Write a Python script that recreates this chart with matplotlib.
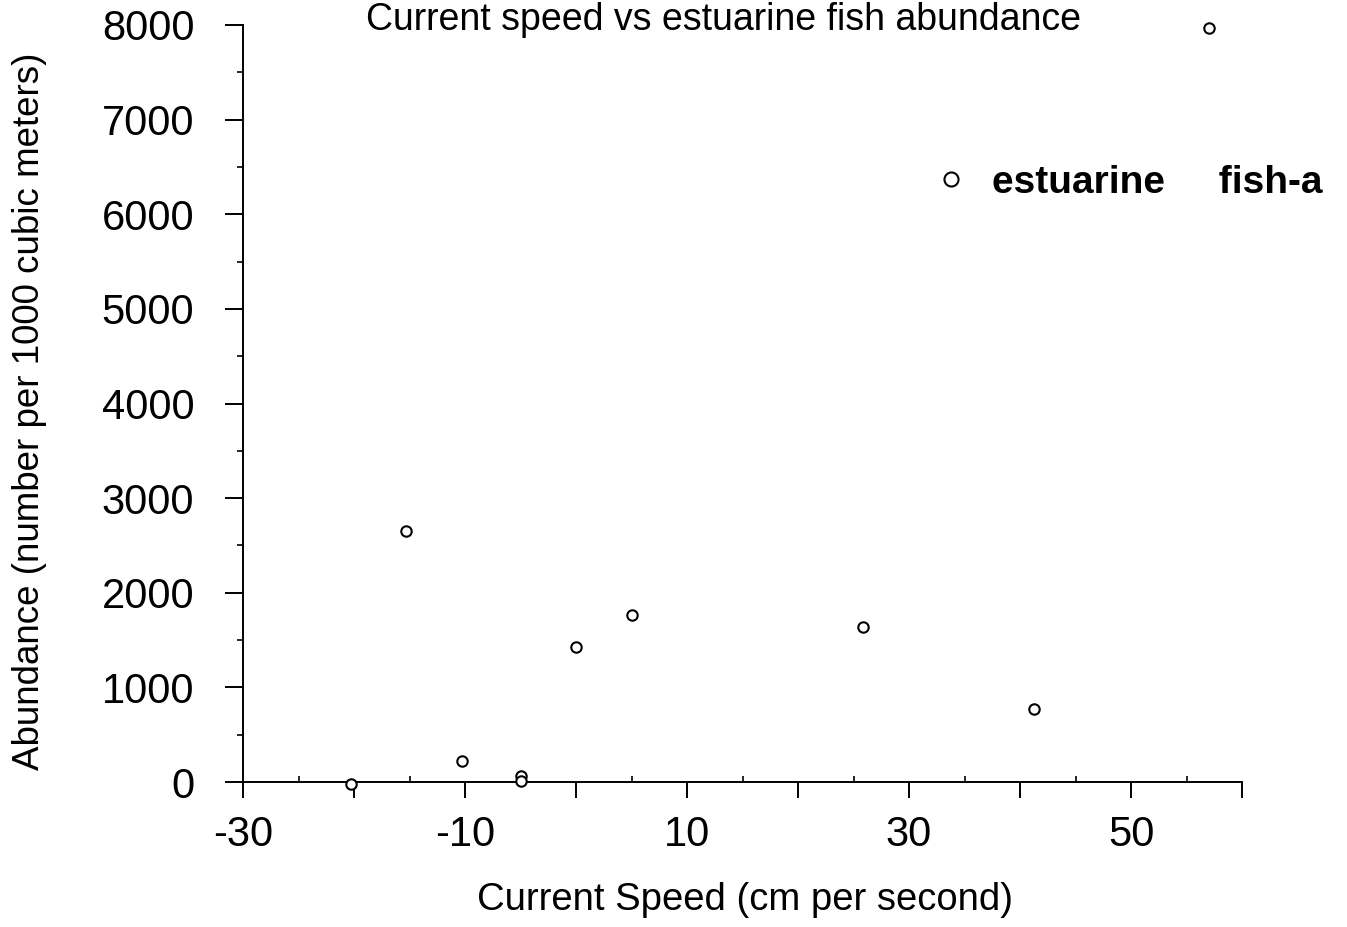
import matplotlib
matplotlib.use("Agg")
import matplotlib.pyplot as plt
from matplotlib.ticker import MultipleLocator, FixedLocator, FixedFormatter

plt.rcParams['font.family'] = ['Liberation Sans', 'DejaVu Sans']

# Data
speed = [-20.3, -15.3, -10.3, -5.0, -5.0, 0.0, 5.0, 25.9, 41.3, 57.0]
abundance = [-20, 2656, 225, 63, 10, 1427, 1765, 1638, 772, 7970]
series_name = "estuarine     fish-a"
x_labels = ["-30", "", "-10", "", "10", "", "30", "", "50", ""]
y_ticks = [0, 1000, 2000, 3000, 4000, 5000, 6000, 7000, 8000]

W, H = 1347, 927
fig = plt.figure(figsize=(W / 100, H / 100), dpi=100)
ax = fig.add_axes([243 / W, 1 - 782 / H, 999 / W, 757 / H])

ax.plot(speed, abundance, linestyle='none', marker='o', markersize=7.5,
        markerfacecolor='white', markeredgecolor='black', markeredgewidth=1.5,
        clip_on=False, label=series_name, zorder=5)

ax.set_xlim(-30, 60)
ax.set_ylim(0, 8000)

for s in ['top', 'right']:
    ax.spines[s].set_visible(False)
for s in ['left', 'bottom']:
    ax.spines[s].set_linewidth(1.4)

x_major = list(range(-30, 61, 10))
ax.xaxis.set_major_locator(FixedLocator(x_major))
ax.xaxis.set_major_formatter(FixedFormatter(x_labels))
ax.xaxis.set_minor_locator(FixedLocator(list(range(-25, 60, 10))))
ax.yaxis.set_major_locator(FixedLocator(y_ticks))
ax.yaxis.set_minor_locator(MultipleLocator(500))

ax.tick_params(axis='x', which='major', direction='out', length=11.5, width=1.4,
               labelsize=30, pad=12)
ax.tick_params(axis='x', which='minor', direction='in', length=4.5, width=1.2)
ax.tick_params(axis='y', which='major', direction='out', length=13, width=1.4,
               labelsize=30, pad=22)
ax.tick_params(axis='y', which='minor', direction='out', length=4.5, width=1.2)

fig.text(30 / W, 1 - 411 / H, "Abundance (number per 1000 cubic meters)",
         rotation=90, ha='center', va='center', fontsize=26.5)
fig.text(745 / W, 1 - 900 / H, "Current Speed (cm per second)",
         ha='center', va='center', fontsize=27.5)
fig.text(724 / W, 1 - 2 / H, "Current speed vs estuarine fish abundance",
         ha='center', va='top', fontsize=27)

leg = ax.legend(loc='center left', bbox_to_anchor=(932 / W, 1 - 183 / H),
                bbox_transform=fig.transFigure, frameon=False, markerscale=1.35,
                handlelength=1.0, handletextpad=0.55, borderpad=0, borderaxespad=0,
                prop={'size': 28, 'weight': 'bold'})

fig.savefig("out.png", dpi=100)
